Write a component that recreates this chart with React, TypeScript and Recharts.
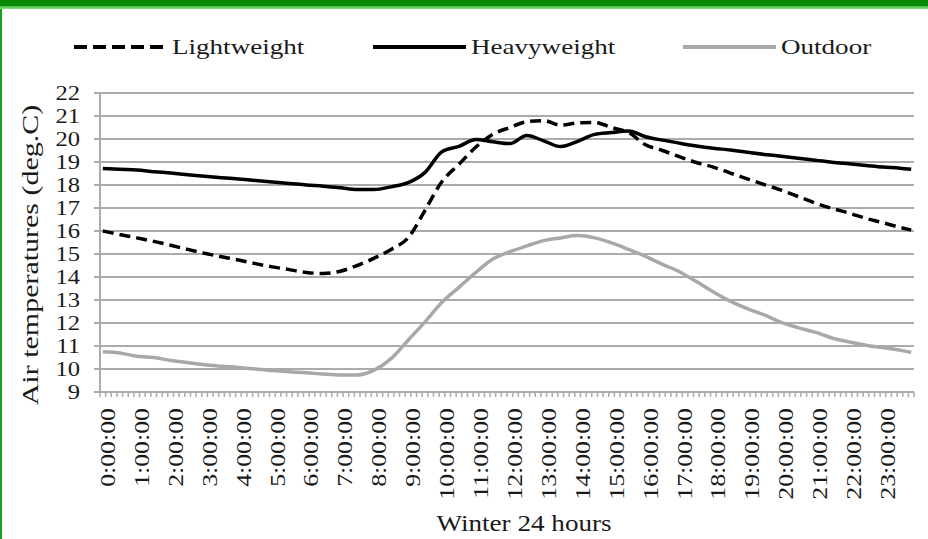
import { LineChart, Line, XAxis, YAxis, CartesianGrid, Legend } from "recharts";

// time of day in minutes (readings every 30 min, last one at 23:50)
const TIMES = [
  0, 30, 60, 90, 120, 150, 180, 210, 240, 270, 300, 330, 360, 390, 420, 450,
  480, 510, 540, 570, 600, 630, 660, 690, 720, 750, 780, 810, 840, 870, 900,
  930, 960, 990, 1020, 1050, 1080, 1110, 1140, 1170, 1200, 1230, 1260, 1290,
  1320, 1350, 1380, 1410, 1430,
];

const LIGHTWEIGHT = [
  16.0, 15.85, 15.7, 15.55, 15.38, 15.2, 15.03, 14.88, 14.74, 14.58, 14.44,
  14.32, 14.2, 14.15, 14.25, 14.5, 14.82, 15.2, 15.7, 16.9, 18.15, 18.9, 19.65,
  20.2, 20.5, 20.75, 20.8, 20.6, 20.7, 20.72, 20.5, 20.28, 19.75, 19.5, 19.23,
  18.98, 18.78, 18.52, 18.27, 18.02, 17.78, 17.5, 17.22, 16.98, 16.78, 16.55,
  16.36, 16.16, 16.04,
];

const HEAVYWEIGHT = [
  18.72, 18.68, 18.65, 18.58, 18.52, 18.45, 18.38, 18.32, 18.26, 18.2, 18.13,
  18.07, 18.0, 17.95, 17.88, 17.8, 17.8, 17.92, 18.1, 18.55, 19.45, 19.68,
  19.98, 19.88, 19.8, 20.15, 19.92, 19.67, 19.9, 20.2, 20.28, 20.35, 20.1,
  19.95, 19.82, 19.7, 19.6, 19.52, 19.42, 19.33, 19.25, 19.16, 19.08, 18.99,
  18.92, 18.85, 18.78, 18.73, 18.68,
];

const OUTDOOR = [
  10.75, 10.7, 10.55, 10.5, 10.37, 10.28, 10.18, 10.12, 10.07, 10.0, 9.93,
  9.88, 9.84, 9.78, 9.74, 9.74, 9.95, 10.45, 11.25, 12.05, 12.9, 13.55, 14.2,
  14.78, 15.1, 15.35, 15.58, 15.7, 15.8, 15.7, 15.48, 15.2, 14.9, 14.55, 14.23,
  13.8, 13.35, 12.95, 12.62, 12.35, 12.03, 11.8, 11.6, 11.35, 11.18, 11.03,
  10.93, 10.82, 10.72,
];

const HOUR_LABELS = [
  "0:00:00", "1:00:00", "2:00:00", "3:00:00", "4:00:00", "5:00:00",
  "6:00:00", "7:00:00", "8:00:00", "9:00:00", "10:00:00", "11:00:00",
  "12:00:00", "13:00:00", "14:00:00", "15:00:00", "16:00:00", "17:00:00",
  "18:00:00", "19:00:00", "20:00:00", "21:00:00", "22:00:00", "23:00:00",
];

const Y_TICKS = [9, 10, 11, 12, 13, 14, 15, 16, 17, 18, 19, 20, 21, 22];

const FONT = '"Liberation Serif", "Times New Roman", serif';
const GRID = "#ababab";
const TEXT = "#1a1a1a";
const STRETCH = 1.23;

const SERIES = [
  { key: "lightweight", name: "Lightweight", color: "#000", dash: "11 6", legendDash: "13 6", itemWidth: 299 },
  { key: "heavyweight", name: "Heavyweight", color: "#000", dash: undefined, legendDash: undefined, itemWidth: 310 },
  { key: "outdoor", name: "Outdoor", color: "#a8a8a8", dash: undefined, legendDash: undefined, itemWidth: 200 },
];

const data = TIMES.map((t, i) => ({
  t,
  lightweight: LIGHTWEIGHT[i],
  heavyweight: HEAVYWEIGHT[i],
  outdoor: OUTDOOR[i],
}));

// category edges every 10 minutes get a tick mark, hour centres get the labels
const SLOT_EDGES = Array.from({ length: 145 }, (_, i) => i * 10 - 5);
const HOUR_TICKS = HOUR_LABELS.map((_, h) => h * 60);
const X_TICKS = [...SLOT_EDGES, ...HOUR_TICKS].sort((a, b) => a - b);

const XTick = (props: any) => {
  const { x, y, payload } = props;
  const v = payload.value;
  if (v >= 0 && v % 60 === 0) {
    return (
      <text
        transform={`translate(${x + 5},${y + 10}) rotate(-90) scale(${STRETCH},1)`}
        textAnchor="end"
        dy="0.34em"
        fontSize={21}
        fontFamily={FONT}
        fill={TEXT}
      >
        {HOUR_LABELS[v / 60]}
      </text>
    );
  }
  return <line x1={x} x2={x} y1={y - 6} y2={y - 1} stroke={GRID} strokeWidth={1.5} />;
};

const YTick = (props: any) => {
  const { x, y, payload } = props;
  return (
    <text
      transform={`translate(${x},${y}) scale(${STRETCH},1)`}
      textAnchor="end"
      dy="0.34em"
      fontSize={20}
      fontFamily={FONT}
      fill={TEXT}
    >
      {payload.value}
    </text>
  );
};

const XTitle = () => (
  <text
    transform={`translate(524,531) scale(1.18,1)`}
    textAnchor="middle"
    fontSize={23}
    fontFamily={FONT}
    fill={TEXT}
  >
    Winter 24 hours
  </text>
);

const YTitle = () => (
  <text
    transform={`translate(38,255) rotate(-90) scale(1.25,1)`}
    textAnchor="middle"
    fontSize={24}
    fontFamily={FONT}
    fill={TEXT}
  >
    Air temperatures (deg.C)
  </text>
);

const renderLegend = () => (
  <div
    style={{
      display: "flex",
      paddingLeft: 74,
      height: 26,
      lineHeight: "26px",
      fontFamily: FONT,
      fontSize: 22,
      color: TEXT,
    }}
  >
    {SERIES.map((s) => (
      <div key={s.key} style={{ width: s.itemWidth, display: "flex", alignItems: "center" }}>
        <svg width={93} height={10} style={{ display: "block" }}>
          <line x1={0} y1={5} x2={93} y2={5} stroke={s.color} strokeWidth={4} strokeDasharray={s.legendDash} />
        </svg>
        <span
          style={{
            display: "inline-block",
            marginLeft: 5,
            transform: `scaleX(${STRETCH})`,
            transformOrigin: "left center",
            whiteSpace: "nowrap",
          }}
        >
          {s.name}
        </span>
      </div>
    ))}
  </div>
);

export default function App() {
  return (
    <div style={{ position: "absolute", left: 0, top: 0, width: 928, height: 539, background: "#fff", overflow: "hidden" }}>
      <LineChart
        width={928}
        height={539}
        data={data}
        margin={{ top: 93, right: 14, bottom: 0, left: 0 }}
      >
        <CartesianGrid vertical={false} stroke={GRID} strokeWidth={2} />
        <XAxis
          dataKey="t"
          type="number"
          domain={[-5, 1435]}
          ticks={X_TICKS}
          interval={0}
          tick={<XTick />}
          tickLine={false}
          tickSize={6}
          tickMargin={0}
          axisLine={{ stroke: GRID, strokeWidth: 2 }}
          height={147}
          label={{ content: XTitle }}
        />
        <YAxis
          domain={[9, 22]}
          ticks={Y_TICKS}
          interval={0}
          width={100}
          tick={<YTick />}
          tickSize={6}
          tickMargin={14}
          tickLine={{ stroke: GRID, strokeWidth: 2 }}
          axisLine={{ stroke: GRID, strokeWidth: 2 }}
          label={{ content: YTitle }}
        />
        <Legend
          verticalAlign="middle"
          align="center"
          layout="horizontal"
          wrapperStyle={{ top: 34, left: 0, width: 928 }}
          content={renderLegend}
        />
        {SERIES.map((s) => (
          <Line
            key={s.key}
            type="monotone"
            dataKey={s.key}
            name={s.name}
            stroke={s.color}
            strokeWidth={3.5}
            strokeDasharray={s.dash}
            dot={false}
            activeDot={false}
            isAnimationActive={false}
          />
        ))}
      </LineChart>
      <div style={{ position: "absolute", left: 0, top: 0, width: 928, height: 6, background: "#078b07" }} />
      <div style={{ position: "absolute", left: 0, top: 6, width: 928, height: 3, background: "linear-gradient(#3cb83c, #86e486)" }} />
      <div style={{ position: "absolute", left: 0, top: 9, width: 2, height: 530, background: "#17a317" }} />
    </div>
  );
}
